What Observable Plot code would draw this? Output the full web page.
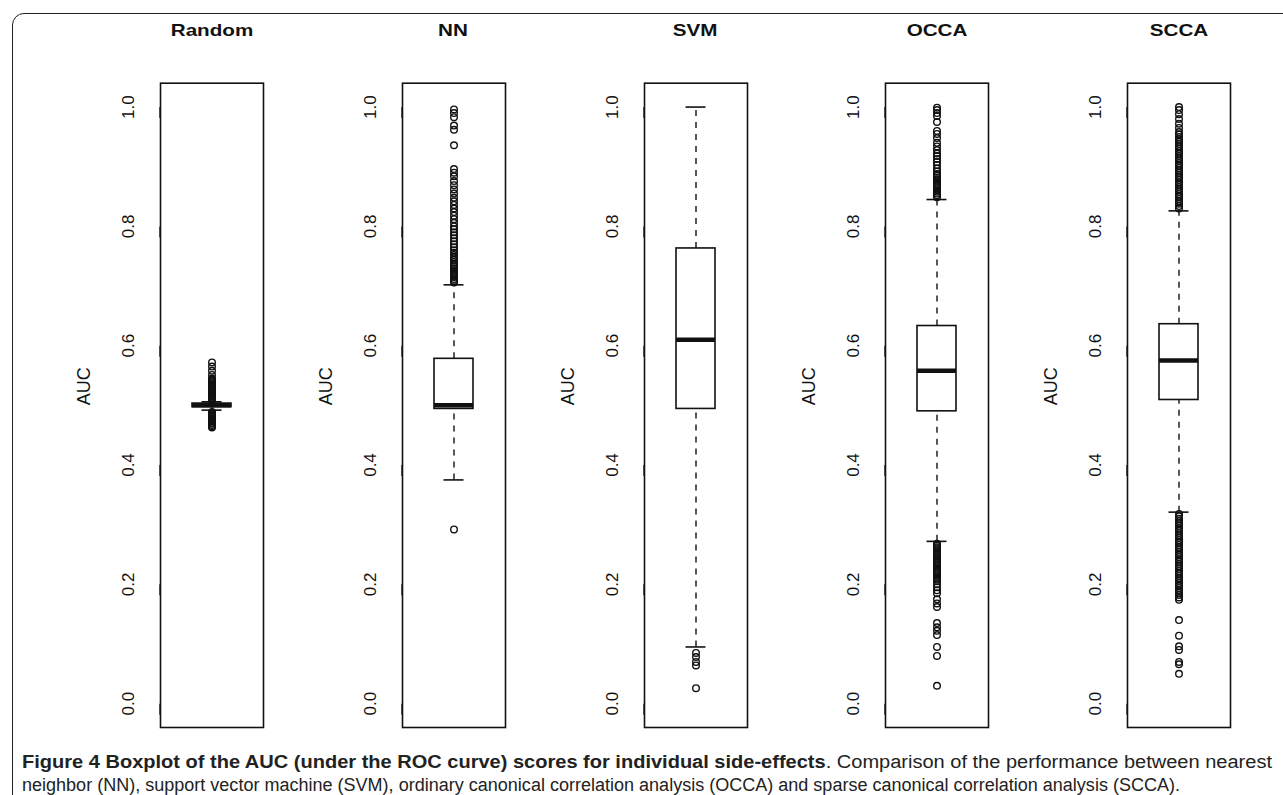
<!DOCTYPE html>
<html>
<head>
<meta charset="utf-8">
<script src="https://cdn.jsdelivr.net/npm/d3@7"></script>
<script src="https://cdn.jsdelivr.net/npm/@observablehq/plot@0.6"></script>
<style>
  html, body { margin: 0; padding: 0; background: #fff; }
  #wrap { position: relative; width: 1283px; height: 795px; overflow: hidden; background: #fff; font-family: "Liberation Sans", Arial, sans-serif; }
  #border { position: absolute; left: 12px; top: 13px; width: 1290px; height: 800px; border: 1.5px solid #222; border-radius: 12px; box-sizing: border-box; }
  .title { position: absolute; top: 19px; width: 200px; text-align: center; font-weight: bold; font-size: 16.5px; line-height: 22px; color: #111; transform: scaleX(1.25); }
  .panel { position: absolute; top: 0; }
  .cap { position: absolute; left: 22px; white-space: nowrap; font-size: 18px; line-height: 22px; color: #222; transform-origin: 0 50%; font-family: "Liberation Sans", Arial, sans-serif; }
</style>
</head>
<body>
<div id="wrap"><div id="border"></div></div>
<script>
// ---- data ----
const categories = ["Random", "NN", "SVM", "OCCA", "SCCA"];
const q1Values     = [0.497, 0.494, 0.494, 0.490, 0.509];
const medianValues = [0.500, 0.500, 0.610, 0.558, 0.575];
const q3Values     = [0.503, 0.578, 0.763, 0.633, 0.636];
const whiskerLow   = [0.492, 0.375, 0.095, 0.272, 0.321];
const whiskerHigh  = [0.506, 0.702, 1.000, 0.845, 0.826];

const outliersRandom = [
  0.572, 0.565, 0.558, 0.551, 0.545, 0.543, 0.541, 0.539, 0.537, 0.535, 0.533, 0.531, 0.529, 0.527,
  0.525, 0.523, 0.521, 0.519, 0.517, 0.515, 0.513, 0.511, 0.509,
  0.489, 0.487, 0.485, 0.483, 0.481, 0.479, 0.477, 0.475, 0.473, 0.471, 0.469, 0.467, 0.465, 0.463
];
const outliersNN = [
  0.292,
  0.706, 0.709, 0.712, 0.715, 0.718, 0.721, 0.724, 0.727, 0.730, 0.733, 0.736, 0.740, 0.744, 0.748,
  0.752, 0.756, 0.760, 0.765, 0.770, 0.775, 0.780, 0.785, 0.790, 0.795, 0.800, 0.806, 0.812, 0.818,
  0.824, 0.830, 0.836, 0.842, 0.848, 0.855, 0.862, 0.869, 0.876, 0.884, 0.890, 0.896,
  0.936, 0.962, 0.969, 0.983, 0.990, 0.996
];
const outliersSVM = [0.085, 0.078, 0.070, 0.064, 0.026];
const outliersOCCA = [
  0.849, 0.852, 0.855, 0.858, 0.861, 0.864, 0.867, 0.870, 0.873, 0.876, 0.879, 0.882, 0.885, 0.888,
  0.892, 0.897, 0.903, 0.908, 0.913, 0.918, 0.922, 0.928, 0.934, 0.940, 0.948, 0.955, 0.960, 0.975,
  0.985, 0.990, 0.995, 0.999,
  0.268, 0.265, 0.262, 0.259, 0.256, 0.253, 0.250, 0.247, 0.244, 0.241, 0.238, 0.235, 0.232, 0.229,
  0.226, 0.223, 0.220, 0.217, 0.214, 0.211, 0.208, 0.205, 0.200, 0.195, 0.190, 0.185, 0.175, 0.168,
  0.162, 0.135, 0.128, 0.122, 0.115, 0.095, 0.080, 0.030
];
const outliersSCCA = [
  0.830, 0.834, 0.838, 0.842, 0.846, 0.850, 0.854, 0.858, 0.862, 0.866, 0.870, 0.874, 0.878, 0.882,
  0.886, 0.890, 0.894, 0.898, 0.902, 0.906, 0.910, 0.914, 0.918, 0.922, 0.926, 0.930, 0.934, 0.938,
  0.942, 0.946, 0.950, 0.954, 0.958, 0.965, 0.972, 0.980, 0.988, 0.995, 1.000,
  0.318, 0.314, 0.310, 0.306, 0.302, 0.298, 0.294, 0.290, 0.286, 0.282, 0.278, 0.274, 0.270, 0.266,
  0.262, 0.258, 0.254, 0.250, 0.246, 0.242, 0.238, 0.234, 0.230, 0.226, 0.222, 0.218, 0.214, 0.210,
  0.206, 0.202, 0.198, 0.194, 0.190, 0.186, 0.182, 0.178, 0.174,
  0.140, 0.114, 0.096, 0.090, 0.070, 0.066, 0.050
];
const outlierLists = [outliersRandom, outliersNN, outliersSVM, outliersOCCA, outliersSCCA];
const yTicks = [0, 0.2, 0.4, 0.6, 0.8, 1.0];
const yLabel = "AUC";
const captionBold = "Figure 4 Boxplot of the AUC (under the ROC curve) scores for individual side-effects";
const captionRest1 = ". Comparison of the performance between nearest";
const captionLine2 = "neighbor (NN), support vector machine (SVM), ordinary canonical correlation analysis (OCCA) and sparse canonical correlation analysis (SCCA).";

// ---- layout ----
const wrap = document.getElementById("wrap");
const frameLeft0 = 160, frameStep = 241.75, frameW = 103;
const mL = 100, mR = 10;

categories.forEach((name, i) => {
  const stats = [{name, q1: q1Values[i], med: medianValues[i], q3: q3Values[i], lo: whiskerLow[i], hi: whiskerHigh[i]}];
  const outs = outlierLists[i].map(v => ({name, v}));
  const chart = Plot.plot({
    width: mL + frameW + mR, height: 742,
    marginLeft: mL, marginRight: mR, marginTop: 82.7, marginBottom: 15,
    x: {domain: [name], paddingInner: 0, paddingOuter: 0.82, axis: null},
    y: {domain: [-0.04, 1.04], axis: null},
    style: {fontFamily: "'Liberation Sans', Arial, sans-serif", background: "transparent", overflow: "visible", color: "#111"},
    marks: [
      Plot.frame({stroke: "#111", strokeWidth: 1.6}),
      Plot.axisY({ticks: yTicks, tickSize: 11, tickPadding: 21, tickFormat: d3.format(".1f"), fontSize: 17, rotate: -90, textAnchor: "middle", label: null, strokeWidth: 1.3}),
      Plot.text([yLabel], {text: d => d, frameAnchor: "left", dx: -76, rotate: -90, fontSize: 18, fill: "#111"}),
      Plot.ruleX(stats, {x: "name", y1: "q3", y2: "hi", stroke: "#111", strokeWidth: 1.4, strokeDasharray: "6,6"}),
      Plot.ruleX(stats, {x: "name", y1: "lo", y2: "q1", stroke: "#111", strokeWidth: 1.4, strokeDasharray: "6,6"}),
      Plot.tickY(stats, {x: "name", y: "hi", insetLeft: 9.5, insetRight: 9.5, stroke: "#111", strokeWidth: 1.6}),
      Plot.tickY(stats, {x: "name", y: "lo", insetLeft: 9.5, insetRight: 9.5, stroke: "#111", strokeWidth: 1.6}),
      Plot.barY(stats, {x: "name", y1: "q1", y2: "q3", fill: "white", stroke: "#111", strokeWidth: 1.6}),
      Plot.tickY(stats, {x: "name", y: "med", stroke: "#111", strokeWidth: 4.5}),
      Plot.dot(outs, {x: "name", y: "v", r: 3.3, stroke: "#111", strokeWidth: 1.4, fill: "none"})
    ]
  });
  const fl = frameLeft0 + i * frameStep;
  chart.classList.add("panel");
  chart.style.left = (fl - mL) + "px";
  wrap.appendChild(chart);

  const t = document.createElement("div");
  t.className = "title";
  t.textContent = name;
  t.style.left = (fl + frameW / 2 - 100) + "px";
  wrap.appendChild(t);
});

// caption
const c1 = document.createElement("div");
c1.className = "cap";
c1.style.top = "751px";
const b = document.createElement("b");
b.textContent = captionBold;
c1.appendChild(b);
c1.appendChild(document.createTextNode(captionRest1));
wrap.appendChild(c1);
const c2 = document.createElement("div");
c2.className = "cap";
c2.style.top = "774px";
c2.textContent = captionLine2;
wrap.appendChild(c2);
[[c1, 1250], [c2, 1158]].forEach(([el, target]) => {
  const w = el.getBoundingClientRect().width;
  el.style.transform = `scaleX(${target / w})`;
});
</script>
</body>
</html>
